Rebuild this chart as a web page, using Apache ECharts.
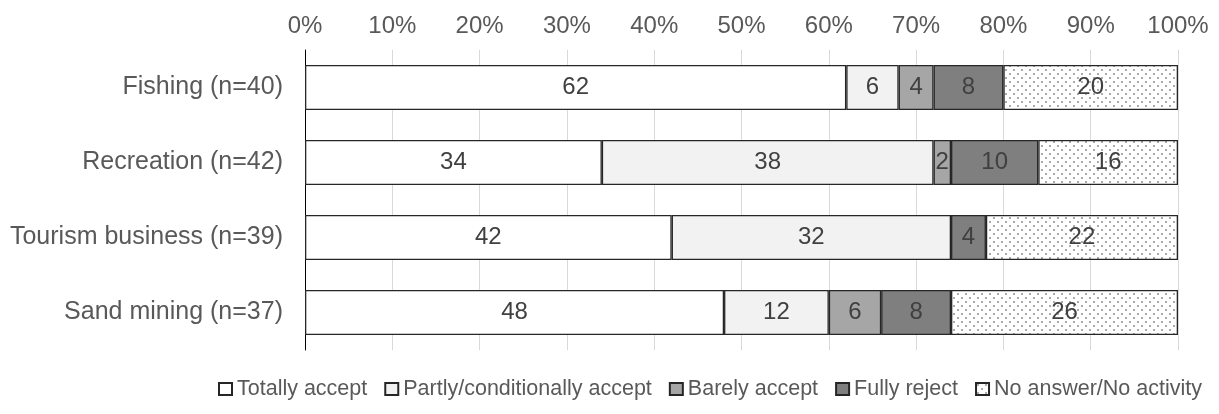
<!DOCTYPE html>
<html><head><meta charset="utf-8">
<script src="https://cdn.jsdelivr.net/npm/echarts@6/dist/echarts.min.js"></script>
<style>html,body{margin:0;padding:0;background:#fff}#c{width:1219px;height:414px}</style>
</head><body><div id="c"></div>
<script>
const categories = ['Fishing (n=40)', 'Recreation (n=42)', 'Tourism business (n=39)', 'Sand mining (n=37)'];
const seriesNames = ['Totally accept', 'Partly/conditionally accept', 'Barely accept', 'Fully reject', 'No answer/No activity'];
const totallyAccept = [62, 34, 42, 48];
const partlyAccept = [6, 38, 32, 12];
const barelyAccept = [4, 2, 0, 6];
const fullyReject = [8, 10, 4, 8];
const noAnswer = [20, 16, 22, 26];
const xTicks = [0, 10, 20, 30, 40, 50, 60, 70, 80, 90, 100];

const FONT = 'Liberation Sans, Arial, sans-serif';

const pc = document.createElement('canvas');
pc.width = 8; pc.height = 8;
const g = pc.getContext('2d');
g.fillStyle = '#fff'; g.fillRect(0, 0, 8, 8);
g.fillStyle = '#ababab';
g.fillRect(1, 1, 2, 2);
g.fillRect(5, 5, 2, 2);

const fills = ['#ffffff', '#f2f2f2', '#a6a6a6', '#7f7f7f', {image: pc, repeat: 'repeat'}];
const dataSets = [totallyAccept, partlyAccept, barelyAccept, fullyReject, noAnswer];

const chart = echarts.init(document.getElementById('c'));
chart.setOption({
  animation: false,
  backgroundColor: '#fff',
  grid: {left: 305, right: 41, top: 50, height: 300},
  legend: {
    top: 373, left: 213,
    itemWidth: 13, itemHeight: 12, itemGap: 17,
    icon: 'rect',
    textStyle: {color: '#595959', fontSize: 21.5, fontFamily: FONT},
    data: seriesNames
  },
  xAxis: {
    type: 'value', position: 'top', min: 0, max: 100, interval: 10,
    axisLine: {show: false}, axisTick: {show: false},
    splitLine: {show: true, lineStyle: {color: '#d9d9d9', width: 1}},
    axisLabel: {color: '#595959', fontSize: 24, fontFamily: FONT, margin: 12,
      formatter: v => xTicks.indexOf(v) >= 0 ? v + '%' : ''}
  },
  yAxis: {
    type: 'category', inverse: true, data: categories,
    axisLine: {show: true, lineStyle: {color: '#000', width: 1}},
    axisTick: {show: false},
    axisLabel: {color: '#595959', fontSize: 25, fontFamily: FONT, margin: 22}
  },
  series: seriesNames.map((n, i) => ({
    name: n, type: 'bar', stack: 'all', barWidth: '60%',
    data: dataSets[i],
    itemStyle: {color: fills[i], borderColor: '#262626', borderWidth: 1.3},
    label: {show: true, position: 'inside', color: '#404040', fontSize: 24,
      fontFamily: FONT,
      formatter: p => p.value > 0 ? String(p.value) : ''},
    emphasis: {disabled: true}
  }))
});
</script></body></html>
